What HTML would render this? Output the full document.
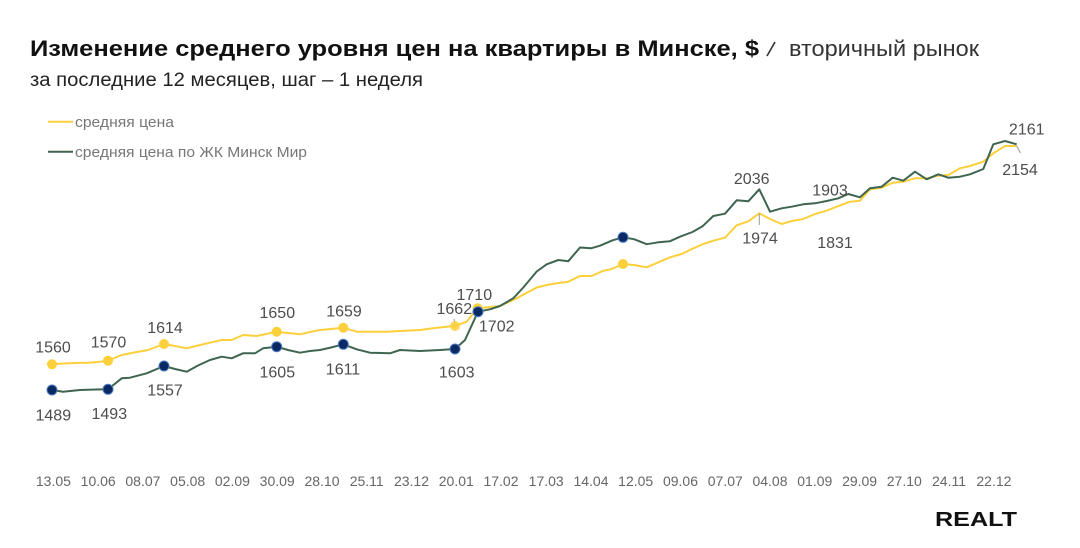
<!DOCTYPE html>
<html>
<head>
<meta charset="utf-8">
<style>
  html,body{margin:0;padding:0;background:#fff;}
  svg{display:block;}
  text{font-family:"Liberation Sans","DejaVu Sans",sans-serif;}
</style>
</head>
<body>
<svg width="1080" height="548" viewBox="0 0 1080 548" xmlns="http://www.w3.org/2000/svg">
  <rect width="1080" height="548" fill="#ffffff"/>

  <!-- Title -->
  <text x="30" y="56" font-size="22" font-weight="bold" fill="#111" textLength="729" lengthAdjust="spacingAndGlyphs">Изменение среднего уровня цен на квартиры в Минске, $</text>
  <line x1="775" y1="42" x2="767" y2="56" stroke="#333" stroke-width="1.6"/>
  <text x="789" y="56" font-size="22" fill="#333" textLength="190" lengthAdjust="spacingAndGlyphs">вторичный рынок</text>

  <!-- Subtitle -->
  <text x="30" y="86" font-size="19" fill="#222" textLength="393" lengthAdjust="spacingAndGlyphs">за последние 12 месяцев, шаг – 1 неделя</text>

  <!-- Legend -->
  <line x1="48" y1="121.7" x2="73" y2="121.7" stroke="#fdd03b" stroke-width="2"/>
  <text x="75" y="127" font-size="15" fill="#777" textLength="99" lengthAdjust="spacingAndGlyphs">средняя цена</text>
  <line x1="48" y1="151.7" x2="73" y2="151.7" stroke="#3f6550" stroke-width="2"/>
  <text x="75" y="157" font-size="15" fill="#777" textLength="232" lengthAdjust="spacingAndGlyphs">средняя цена по ЖК Минск Мир</text>

  <!-- Yellow series -->
  <polyline fill="none" stroke="#fdd03b" stroke-width="2" stroke-linejoin="round" points="52,364.3 63,363.5 75,363 88,362.7 98,362 108,360.7 121.7,355 134,352.5 148,350 164,344 175,346 186.7,348.3 198,345.5 210,342.7 221.7,340 231.7,340 243,335 256.7,336 266,334 276.7,331.7 288,333 300,334.3 310,332 320,330 331,329 343.3,327.7 356.7,331.7 370,331.7 386.7,331.7 400,331 420,330 433,328.3 444,327 455,326 466.7,321.7 477.5,308.3 490,307 500,306 516.7,298.3 536.7,287.5 546.7,285 558.3,283 568.3,281.7 580,276 591.7,276 603.3,270.8 611.7,269 623,264 634,265 646.7,267.3 658.3,262.3 670,257.3 681.7,254 693.3,248.3 703.3,244 713.3,240.7 725,237.7 736.7,225.3 748.3,221.3 759.3,213.3 770,219 781.7,224 791.7,221 803.3,219 815,214 826.7,210.7 838.3,206 850,201.7 860,200.7 870,189.3 881.7,187.7 892.7,182.7 903.3,181.7 915,178.3 926.7,178.3 938.3,175.7 948.3,175 960,168.3 970,166 983.3,161.7 993.3,153.3 1005,146 1016.7,146"/>

  <!-- Green series -->
  <polyline fill="none" stroke="#3f6550" stroke-width="2" stroke-linejoin="round" points="52,390 63,391.7 80,390 96,389.5 108,389.3 121.7,378.3 130,377.7 146.7,373.3 164,366 175,369 186.7,371.7 198,365.5 210,360 221.7,356.7 231.7,358.3 243,353.3 255,353.3 263,348.3 276.7,346.7 288,350 300,352.7 310,351 320,350 331,347.5 343.3,344.3 356.7,349.3 370,352.7 390,353.3 400,350 420,351 440,350 455,349 465,340 478,311.7 490,309.3 500,306 513.3,298.3 523.3,287.5 536.7,271.5 546.7,264.3 558.3,260 568.3,261.2 580,247.5 591,248.3 600,245.7 612.5,240.3 623,237.3 634,239.2 646.7,244.2 658.3,242.3 670,241.2 680,236.7 692.5,232 702.5,226.3 713.3,216 725,213.7 736.7,200.3 748.3,201.3 759.3,189.3 770,211.7 781.7,208.3 791.7,206.7 803.3,204.3 815,203.3 826.7,201 838.3,198.3 848.3,194 860,197.3 870,188.3 881.7,186.7 892.7,177.7 903.3,180.7 915,171.7 926.7,179.3 938.3,174.3 948.3,177.7 960,176.7 970,174.3 983.3,169 993.3,144.3 1005,141 1016.7,144.3"/>

  <!-- Leader lines -->
  <g stroke="#9a9a9a" stroke-width="1">
    <line x1="455" y1="326" x2="454" y2="319"/>
    <line x1="759.3" y1="213.3" x2="759.3" y2="225"/>
    <line x1="1016.7" y1="146" x2="1020.5" y2="153"/>
  </g>

  <!-- Yellow markers -->
  <g fill="#fdd03b">
    <circle cx="52" cy="364.3" r="5"/>
    <circle cx="108" cy="360.7" r="5"/>
    <circle cx="164" cy="344" r="5"/>
    <circle cx="276.7" cy="331.7" r="5"/>
    <circle cx="343.3" cy="327.7" r="5"/>
    <circle cx="455" cy="326" r="5" fill-opacity="0.85"/>
    <circle cx="477.5" cy="308.3" r="5"/>
    <circle cx="623" cy="264" r="5"/>
  </g>

  <!-- Green/navy markers -->
  <g fill="#0b2a63" stroke="#4c7cc0" stroke-width="1">
    <circle cx="52" cy="390" r="5"/>
    <circle cx="108" cy="389.3" r="5"/>
    <circle cx="164" cy="366" r="5"/>
    <circle cx="276.7" cy="346.7" r="5"/>
    <circle cx="343.3" cy="344.3" r="5"/>
    <circle cx="455" cy="349" r="5"/>
    <circle cx="478" cy="311.7" r="5"/>
    <circle cx="623" cy="237.3" r="5"/>
  </g>

  <!-- Value labels -->
  <g font-size="16" fill="#4d4d4d" text-anchor="middle">
    <text x="53" y="352.4">1560</text>
    <text x="108.5" y="347.4">1570</text>
    <text x="165" y="333">1614</text>
    <text x="277.3" y="318">1650</text>
    <text x="344" y="316.4">1659</text>
    <text x="454.3" y="314">1662</text>
    <text x="474.3" y="300">1710</text>
    <text x="496.7" y="331.7">1702</text>
    <text x="53.3" y="420.7">1489</text>
    <text x="109.3" y="419">1493</text>
    <text x="165" y="395.7">1557</text>
    <text x="277.3" y="377.4">1605</text>
    <text x="343" y="374.7">1611</text>
    <text x="456.7" y="377.4">1603</text>
    <text x="751.7" y="184">2036</text>
    <text x="760" y="243.4">1974</text>
    <text x="830" y="195.7">1903</text>
    <text x="835" y="248">1831</text>
    <text x="1026.7" y="134.7">2161</text>
    <text x="1020" y="175">2154</text>
  </g>

  <!-- X axis labels -->
  <g font-size="14" fill="#666" text-anchor="middle">
    <text x="53.4" y="486">13.05</text>
    <text x="98.2" y="486">10.06</text>
    <text x="142.9" y="486">08.07</text>
    <text x="187.7" y="486">05.08</text>
    <text x="232.4" y="486">02.09</text>
    <text x="277.2" y="486">30.09</text>
    <text x="322" y="486">28.10</text>
    <text x="366.7" y="486">25.11</text>
    <text x="411.5" y="486">23.12</text>
    <text x="456.3" y="486">20.01</text>
    <text x="501" y="486">17.02</text>
    <text x="546.2" y="486">17.03</text>
    <text x="591" y="486">14.04</text>
    <text x="635.7" y="486">12.05</text>
    <text x="680.5" y="486">09.06</text>
    <text x="725.3" y="486">07.07</text>
    <text x="770" y="486">04.08</text>
    <text x="814.8" y="486">01.09</text>
    <text x="859.6" y="486">29.09</text>
    <text x="904.3" y="486">27.10</text>
    <text x="949" y="486">24.11</text>
    <text x="993.9" y="486">22.12</text>
  </g>

  <!-- Logo -->
  <text x="935" y="526" font-size="20.5" font-weight="900" fill="#111" textLength="82" lengthAdjust="spacingAndGlyphs">REALT</text>
</svg>
</body>
</html>
